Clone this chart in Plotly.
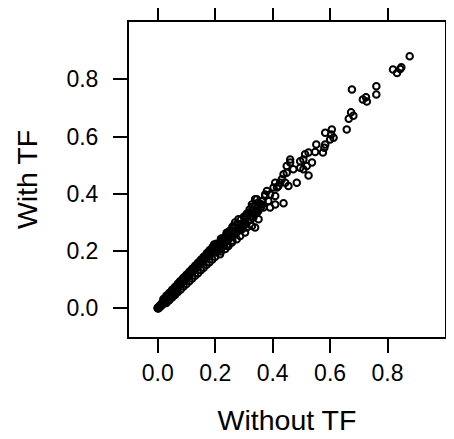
import plotly.graph_objects as go

# Values (x = without TF, y = with TF)
without_tf = [
    0.877, 0.819, 0.833, 0.844, 0.848, 0.676, 0.761, 0.761, 0.714, 0.725, 0.728,
    0.673, 0.681, 0.665, 0.658, 0.606, 0.604, 0.612, 0.600, 0.580,
    0.583, 0.583, 0.552, 0.575, 0.548, 0.525, 0.513, 0.507, 0.537, 0.519, 0.496,
    0.461, 0.461, 0.472, 0.449, 0.449, 0.438, 0.484, 0.525, 0.507, 0.496, 0.432,
    0.426, 0.409, 0.403, 0.420, 0.444, 0.455, 0.380, 0.374, 0.391, 0.345, 0.362,
    0.409, 0.438, 0.391,
    0.415, 0.409, 0.374, 0.385, 0.368, 0.339, 0.328, 0.339, 0.316, 0.333, 0.351,
    0.304, 0.281, 0.269, 0.281, 0.293, 0.310, 0.328, 0.339, 0.258, 0.246, 0.235,
    0.223, 0.211, 0.194, 0.182, 0.287, 0.275, 0.258, 0.246, 0.235, 0.217, 0.304,
    0.300, 0.290, 0.320, 0.310, 0.345, 0.355, 0.350, 0.365, 0.330, 0.322, 0.300,
    0.270, 0.265, 0.255, 0.245, 0.240, 0.228, 0.215, 0.205, 0.200,
    0.221, 0.204, 0.192, 0.181, 0.169, 0.157, 0.146, 0.134, 0.123, 0.111, 0.099,
    0.088, 0.076, 0.196, 0.184, 0.172, 0.161, 0.149, 0.137, 0.126, 0.114,
    0.190, 0.170, 0.150, 0.130, 0.110, 0.090, 0.200, 0.160, 0.140, 0.120, 0.100, 0.080,
    0.000, 0.002, 0.004, 0.005, 0.007, 0.009, 0.010, 0.012, 0.014, 0.015, 0.017,
    0.019, 0.020, 0.022, 0.024, 0.025, 0.027, 0.029, 0.030, 0.032, 0.034, 0.035,
    0.037, 0.039, 0.040, 0.042, 0.044, 0.045, 0.047, 0.049, 0.050, 0.052, 0.054,
    0.055, 0.057, 0.059, 0.060, 0.062, 0.064, 0.066, 0.068, 0.070, 0.001, 0.003,
    0.006, 0.008, 0.013, 0.018, 0.023, 0.028, 0.033, 0.038, 0.043, 0.048, 0.053,
    0.058, 0.063, 0.001, 0.000, 0.002, 0.003,
    0.020, 0.030, 0.040, 0.050, 0.060, 0.070, 0.080, 0.090, 0.100, 0.110, 0.120,
    0.130, 0.140, 0.150, 0.160, 0.170, 0.180, 0.190, 0.200, 0.220, 0.240, 0.260,
    0.030, 0.040, 0.050, 0.060, 0.070, 0.080, 0.090, 0.100, 0.110, 0.120, 0.130,
    0.140, 0.150, 0.160, 0.170, 0.180, 0.190, 0.200, 0.220, 0.240, 0.260,
    0.210, 0.215, 0.225, 0.230, 0.235, 0.240, 0.250, 0.250, 0.260, 0.265, 0.270,
    0.275, 0.280, 0.285, 0.290, 0.295, 0.300, 0.305, 0.310, 0.315, 0.320, 0.325,
    0.330, 0.335, 0.340, 0.345, 0.350, 0.360,
    0.075, 0.085, 0.095, 0.105, 0.115, 0.125, 0.135, 0.145, 0.155, 0.165, 0.175,
    0.185, 0.195,
]
with_tf = [
    0.880, 0.834, 0.822, 0.836, 0.842, 0.764, 0.776, 0.747, 0.729, 0.737, 0.722,
    0.685, 0.673, 0.662, 0.625, 0.625, 0.607, 0.596, 0.590, 0.561,
    0.613, 0.572, 0.572, 0.544, 0.546, 0.544, 0.538, 0.520, 0.509, 0.497, 0.514,
    0.520, 0.509, 0.486, 0.497, 0.474, 0.468, 0.439, 0.464, 0.486, 0.491, 0.451,
    0.439, 0.439, 0.422, 0.427, 0.439, 0.427, 0.410, 0.392, 0.398, 0.381, 0.363,
    0.363, 0.367, 0.352,
    0.422, 0.392, 0.398, 0.375, 0.352, 0.381, 0.363, 0.340, 0.334, 0.317, 0.311,
    0.317, 0.311, 0.300, 0.282, 0.276, 0.282, 0.288, 0.282, 0.270, 0.259, 0.241,
    0.230, 0.213, 0.201, 0.189, 0.253, 0.241, 0.230, 0.218, 0.207, 0.189, 0.265,
    0.300, 0.295, 0.330, 0.320, 0.350, 0.365, 0.340, 0.375, 0.345, 0.310, 0.288,
    0.270, 0.285, 0.255, 0.245, 0.260, 0.235, 0.222, 0.210, 0.195,
    0.237, 0.226, 0.214, 0.203, 0.185, 0.173, 0.162, 0.150, 0.138, 0.127, 0.115,
    0.104, 0.092, 0.223, 0.205, 0.193, 0.176, 0.164, 0.153, 0.141, 0.130,
    0.210, 0.185, 0.165, 0.145, 0.120, 0.100, 0.218, 0.170, 0.155, 0.130, 0.110, 0.090,
    0.000, 0.001, 0.003, 0.006, 0.006, 0.010, 0.012, 0.011, 0.015, 0.017, 0.016,
    0.021, 0.022, 0.020, 0.026, 0.028, 0.025, 0.032, 0.033, 0.030, 0.037, 0.039,
    0.036, 0.043, 0.044, 0.040, 0.048, 0.050, 0.045, 0.053, 0.056, 0.050, 0.059,
    0.061, 0.055, 0.064, 0.067, 0.060, 0.070, 0.072, 0.066, 0.077, 0.003, 0.000,
    0.004, 0.011, 0.009, 0.024, 0.018, 0.036, 0.027, 0.047, 0.036, 0.058, 0.046,
    0.069, 0.056, 0.000, 0.002, 0.004, 0.002,
    0.033, 0.044, 0.054, 0.065, 0.075, 0.086, 0.096, 0.107, 0.117, 0.128, 0.138,
    0.149, 0.159, 0.170, 0.180, 0.191, 0.201, 0.212, 0.222, 0.243, 0.264, 0.285,
    0.019, 0.028, 0.038, 0.047, 0.057, 0.066, 0.076, 0.085, 0.095, 0.104, 0.114,
    0.123, 0.133, 0.142, 0.152, 0.161, 0.171, 0.180, 0.199, 0.218, 0.237,
    0.225, 0.205, 0.245, 0.220, 0.250, 0.235, 0.270, 0.245, 0.265, 0.255, 0.290,
    0.265, 0.295, 0.275, 0.310, 0.285, 0.320, 0.300, 0.330, 0.305, 0.345, 0.320,
    0.355, 0.330, 0.360, 0.335, 0.370, 0.355,
    0.080, 0.090, 0.100, 0.110, 0.125, 0.135, 0.145, 0.155, 0.165, 0.175, 0.190,
    0.195, 0.205,
]

tick_vals = [0.0, 0.2, 0.4, 0.6, 0.8]
tick_text = ["0.0", "0.2", "0.4", "0.6", "0.8"]
axis_range = [-0.1, 1.0]

FONT = "Liberation Sans, Arial"

fig = go.Figure(
    go.Scatter(
        x=without_tf, y=with_tf, mode="markers",
        marker=dict(symbol="circle-open", size=6.5, color="black",
                    line=dict(width=2, color="black")),
        showlegend=False,
    )
)

axis_common = dict(
    range=axis_range, tickvals=tick_vals, ticktext=tick_text,
    showgrid=False, zeroline=False, showline=True, linecolor="black",
    linewidth=2, mirror="ticks", ticks="outside", ticklen=14, tickwidth=2,
    tickcolor="black", tickfont=dict(family=FONT, size=23, color="black"),
    automargin=False,
)

fig.update_xaxes(**axis_common, ticklabelstandoff=0,
                 title=dict(text="Without TF", standoff=25,
                            font=dict(family=FONT, size=28.5, color="black")))
fig.update_yaxes(**axis_common, ticklabelstandoff=10,
                 title=dict(text="With TF", standoff=20,
                            font=dict(family=FONT, size=28.5, color="black")))

# the page body keeps its default 8px margin, so the figure is 8px smaller
fig.update_layout(
    width=446, height=431,
    margin=dict(l=121, r=9, t=14, b=102),
    plot_bgcolor="white", paper_bgcolor="white",
)

fig.write_html("out.html")
